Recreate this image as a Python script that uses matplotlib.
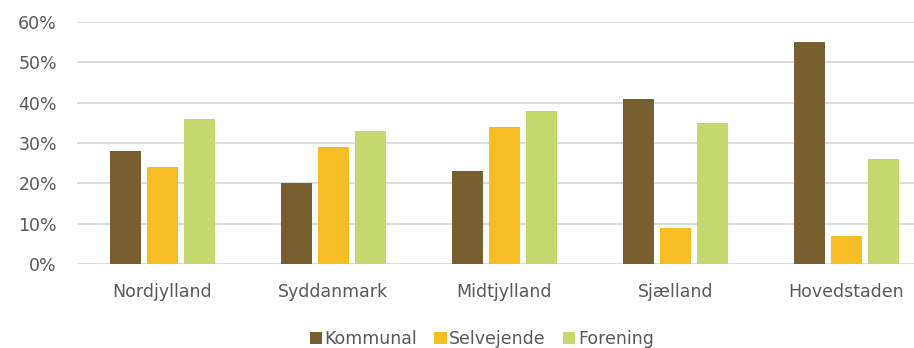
import matplotlib
matplotlib.use("Agg")
import matplotlib.pyplot as plt
import numpy as np

regions = ["Nordjylland", "Syddanmark", "Midtjylland", "Sjælland", "Hovedstaden"]
series_names = ["Kommunal", "Selvejende", "Forening"]
kommunal = [28, 20, 23, 41, 55]
selvejende = [24, 29, 34, 9, 7]
forening = [36, 33, 38, 35, 26]
colors = ["#775F30", "#F6BE24", "#C5D86D"]

plt.rcParams["font.family"] = ["DejaVu Sans"]
text_color = "#595959"

fig = plt.figure(figsize=(9.14, 3.48), dpi=100)
ax = fig.add_axes([0.0843, 0.241, 0.935, 0.696])

x = np.arange(len(regions))
width = 0.182
step = 0.217
for i, (name, vals) in enumerate(zip(series_names, [kommunal, selvejende, forening])):
    ax.bar(x + (i - 1) * step, vals, width=width, color=colors[i], label=name, zorder=3)

ax.set_xlim(-0.5, len(regions) - 0.5)
ax.set_ylim(0, 60)
ax.set_yticks(range(0, 61, 10))
ax.set_yticklabels([f"{v}%" for v in range(0, 61, 10)], fontsize=12.5, color=text_color)
ax.set_xticks(x)
ax.set_xticklabels(regions, fontsize=12.5, color=text_color)
ax.tick_params(axis="both", length=0)
ax.tick_params(axis="x", pad=13.5)
ax.tick_params(axis="y", pad=14.5)
ax.grid(axis="y", color="#D9D9D9", linewidth=1.3, zorder=0)
for s in ax.spines.values():
    s.set_visible(False)

leg = fig.legend(loc="lower center", bbox_to_anchor=(0.527, -0.045), ncol=3, frameon=False,
                 fontsize=12.5, handlelength=0.7, handleheight=0.7, handletextpad=0.15,
                 columnspacing=1.0)
for t in leg.get_texts():
    t.set_color(text_color)

fig.savefig("out.png", dpi=100)
